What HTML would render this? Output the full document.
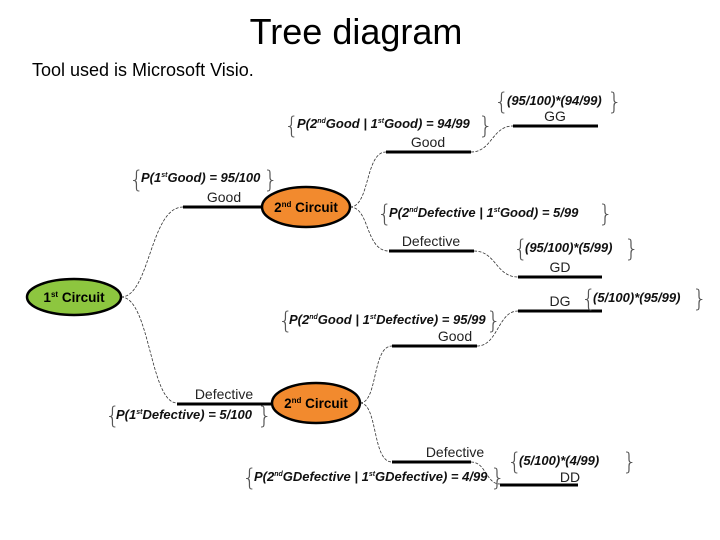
<!DOCTYPE html>
<html><head><meta charset="utf-8"><style>
html,body{margin:0;padding:0;background:#fff;width:720px;height:540px;overflow:hidden}
svg{display:block}
.t{font-family:"Liberation Sans",sans-serif}
.p{font-family:"Liberation Sans",sans-serif;font-weight:bold;font-style:italic;font-size:13px;fill:#111}
.l{font-family:"Liberation Sans",sans-serif;font-size:14px;fill:#222}
.b{font-family:"DejaVu Sans",sans-serif;font-size:24px;fill:#555;font-weight:100}
.c{fill:none;stroke:#333;stroke-width:0.8;stroke-dasharray:3,1.5}
.h{stroke:#000;stroke-width:3}
.n{font-family:"Liberation Sans",sans-serif;font-weight:bold;font-size:13.5px;fill:#000}
</style></head><body>
<svg width="720" height="540" viewBox="0 0 720 540">
<text x="356" y="44" text-anchor="middle" class="t" font-size="36">Tree diagram</text>
<text x="32" y="76" class="t" font-size="18">Tool used is Microsoft Visio.</text>

<path class="c" d="M121,297 C150,297 150,207 183,207"/>
<path class="c" d="M121,297 C150,297 150,403 177,403"/>
<path class="c" d="M350,207 C370,207 365,152 386,152"/>
<path class="c" d="M350,207 C370,207 365,251 389,251"/>
<path class="c" d="M471,152 C492,152 492,126 513,126"/>
<path class="c" d="M474,251 C496,251 496,277 518,277"/>
<path class="c" d="M360,403 C378,403 372,346 392,346"/>
<path class="c" d="M360,403 C378,403 372,462 392,462"/>
<path class="c" d="M477,346 C498,346 498,311 518,311"/>
<path class="c" d="M471,462 C486,462 486,484 500,484"/>

<line class="h" x1="183" y1="207" x2="265" y2="207"/>
<line class="h" x1="177" y1="404" x2="272" y2="404"/>
<line class="h" x1="386" y1="152" x2="471" y2="152"/>
<line class="h" x1="389" y1="251" x2="474" y2="251"/>
<line class="h" x1="513" y1="126" x2="598" y2="126"/>
<line class="h" x1="518" y1="277" x2="602" y2="277"/>
<line class="h" x1="518" y1="311" x2="602" y2="311"/>
<line class="h" x1="392" y1="346" x2="477" y2="346"/>
<line class="h" x1="392" y1="462" x2="471" y2="462"/>
<line class="h" x1="500" y1="485" x2="578" y2="485"/>

<ellipse cx="74" cy="297" rx="47" ry="18" fill="#8dc63f" stroke="#000" stroke-width="2.5"/>
<text x="74" y="302" text-anchor="middle" class="n">1<tspan font-size="8" dy="-5">st</tspan><tspan dy="5"> Circuit</tspan></text>
<ellipse cx="306" cy="207" rx="44" ry="20" fill="#f28a2e" stroke="#000" stroke-width="2.5"/>
<text x="306" y="212" text-anchor="middle" class="n">2<tspan font-size="8" dy="-5">nd</tspan><tspan dy="5"> Circuit</tspan></text>
<ellipse cx="316" cy="403" rx="44" ry="20" fill="#f28a2e" stroke="#000" stroke-width="2.5"/>
<text x="316" y="408" text-anchor="middle" class="n">2<tspan font-size="8" dy="-5">nd</tspan><tspan dy="5"> Circuit</tspan></text>

<text x="224" y="202" text-anchor="middle" class="l">Good</text>
<text x="224" y="399" text-anchor="middle" class="l">Defective</text>
<text x="428" y="147" text-anchor="middle" class="l">Good</text>
<text x="431" y="246" text-anchor="middle" class="l">Defective</text>
<text x="555" y="121" text-anchor="middle" class="l">GG</text>
<text x="560" y="272" text-anchor="middle" class="l">GD</text>
<text x="560" y="306" text-anchor="middle" class="l">DG</text>
<text x="455" y="341" text-anchor="middle" class="l">Good</text>
<text x="455" y="457" text-anchor="middle" class="l">Defective</text>
<text x="570" y="482" text-anchor="middle" class="l">DD</text>

<text x="129" y="188" class="b">{</text><text x="263" y="188" class="b">}</text>
<text x="141" y="182" class="p">P(1<tspan font-size="7" dy="-5">st</tspan><tspan dy="5">Good) = 95/100</tspan></text>

<text x="284" y="134" class="b">{</text><text x="478" y="134" class="b">}</text>
<text x="297" y="128" class="p">P(2<tspan font-size="7" dy="-5">nd</tspan><tspan dy="5">Good | 1</tspan><tspan font-size="7" dy="-5">st</tspan><tspan dy="5">Good) = 94/99</tspan></text>

<text x="494" y="110" class="b">{</text><text x="607" y="110" class="b">}</text>
<text x="507" y="105" class="p">(95/100)*(94/99)</text>

<text x="377" y="222" class="b">{</text><text x="598" y="222" class="b">}</text>
<text x="389" y="217" class="p">P(2<tspan font-size="7" dy="-5">nd</tspan><tspan dy="5">Defective | 1</tspan><tspan font-size="7" dy="-5">st</tspan><tspan dy="5">Good) = 5/99</tspan></text>

<text x="513" y="257" class="b">{</text><text x="624" y="257" class="b">}</text>
<text x="525" y="252" class="p">(95/100)*(5/99)</text>

<text x="581" y="307" class="b">{</text><text x="692" y="307" class="b">}</text>
<text x="593" y="302" class="p">(5/100)*(95/99)</text>

<text x="278" y="329" class="b">{</text><text x="486" y="329" class="b">}</text>
<text x="289" y="324" class="p">P(2<tspan font-size="7" dy="-5">nd</tspan><tspan dy="5">Good | 1</tspan><tspan font-size="7" dy="-5">st</tspan><tspan dy="5">Defective) = 95/99</tspan></text>

<text x="105" y="424" class="b">{</text><text x="257" y="424" class="b">}</text>
<text x="116" y="419" class="p">P(1<tspan font-size="7" dy="-5">st</tspan><tspan dy="5">Defective) = 5/100</tspan></text>

<text x="507" y="470" class="b">{</text><text x="622" y="470" class="b">}</text>
<text x="519" y="465" class="p">(5/100)*(4/99)</text>

<text x="242" y="486" class="b">{</text><text x="490" y="486" class="b">}</text>
<text x="254" y="481" class="p">P(2<tspan font-size="7" dy="-5">nd</tspan><tspan dy="5">GDefective | 1</tspan><tspan font-size="7" dy="-5">st</tspan><tspan dy="5">GDefective) = 4/99</tspan></text>
</svg>
</body></html>
